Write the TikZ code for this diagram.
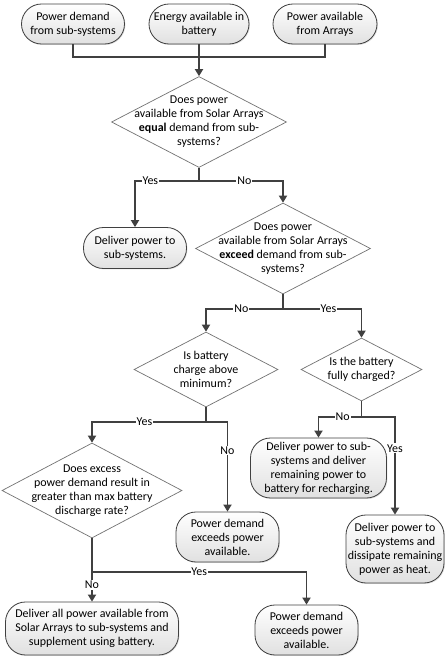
\documentclass[tikz,border=0pt]{standalone}
\usepackage{fontspec}
\setmainfont{Carlito}
\usetikzlibrary{arrows.meta,shadows,shapes.geometric}
\definecolor{linegray}{rgb}{0.25,0.25,0.25}
\definecolor{shadegray}{rgb}{0.88,0.88,0.88}
\tikzset{
  terminal/.style={
    rectangle,
    rounded corners=0.6cm,
    draw=black!75,
    line width=0.7pt,
    top color=white,
    bottom color=shadegray,
    drop shadow={opacity=0.25,shadow xshift=0.8pt,shadow yshift=-0.8pt},
    align=center,
    inner sep=1pt,
    font=\fontsize{10.2}{12}\selectfont
  },
  decision/.style={
    diamond,
    draw=black!55,
    line width=0.6pt,
    fill=white,
    inner sep=0pt
  },
  qtext/.style={
    align=center,
    inner sep=0pt,
    font=\fontsize{10.2}{12}\selectfont
  },
  line/.style={
    line width=1.1pt,
    draw=linegray
  },
  arrow/.style={
    line,
    -{Triangle[length=6pt,width=7pt]}
  },
  lbl/.style={
    fill=white,
    inner sep=0.8pt,
    text=black,
    font=\fontsize{10.2}{12}\selectfont
  }
}

\begin{document}
\begin{tikzpicture}[x=0.03cm,y=-0.03cm]
\useasboundingbox (0,0) rectangle (444,666);

% inputs
\node[terminal,minimum width=3.09cm,minimum height=1.2cm] (p1) at (73,24) {Power demand\\from sub-systems};
\node[terminal,minimum width=3.0cm,minimum height=1.2cm] (p2) at (199,24) {Energy available in\\battery};
\node[terminal,minimum width=3.12cm,minimum height=1.2cm] (p3) at (325,24) {Power available\\from Arrays};

% questions
\node[decision,minimum width=5.25cm,minimum height=2.73cm,
  label={[qtext]center:Does power\\available from Solar Arrays\\\textbf{equal} demand from sub-\\systems?}] (q1) at (199,122) {};
\node[decision,minimum width=5.25cm,minimum height=2.73cm,
  label={[qtext]center:Does power\\available from Solar Arrays\\\textbf{exceed} demand from sub-\\systems?}] (q2) at (283,248.5) {};
\node[decision,minimum width=4.32cm,minimum height=2.25cm,
  label={[qtext]center:Is battery\\charge above\\minimum?}] (q3) at (206,369.5) {};
\node[decision,minimum width=3.63cm,minimum height=1.89cm,
  label={[qtext]center:Is the battery\\fully charged?}] (q4) at (361.5,369.5) {};
\node[decision,minimum width=5.4cm,minimum height=2.85cm,
  label={[qtext]center:Does excess\\power demand result in\\greater than max battery\\discharge rate?}] (q5) at (92,490.5) {};

% results
\node[terminal,minimum width=3.09cm,minimum height=1.23cm] (r1) at (135,248) {Deliver power to\\sub-systems.};
\node[terminal,minimum width=3.09cm,minimum height=1.5cm] (r3) at (227.5,537) {Power demand\\exceeds power\\available.};
\node[terminal,minimum width=4.08cm,minimum height=1.8cm] (r4) at (318.5,468) {Deliver power to sub-\\systems and deliver\\remaining power to\\battery for recharging.};
\node[terminal,minimum width=2.94cm,minimum height=2.04cm] (r5) at (395,549) {Deliver power to\\sub-systems and\\dissipate remaining\\power as heat.};
\node[terminal,minimum width=5.19cm,minimum height=1.59cm] (r6) at (92,628.5) {Deliver all power available from\\Solar Arrays to sub-systems and\\supplement using battery.};
\node[terminal,minimum width=3.09cm,minimum height=1.5cm] (r7) at (306.5,630) {Power demand\\exceeds power\\available.};

% junctions
\coordinate (j0) at (199,57);
\coordinate (j1) at (199,181);
\coordinate (j2) at (283,309);
\coordinate (j3) at (206,422);
\coordinate (j4) at (361.5,417);
\coordinate (j5) at (92,572);

\draw[line] (p1.south) |- (j0) -| (p3.south);
\draw[arrow] (p2.south) -- (q1.north);

\draw[line] (q1.south) -- (j1);
\draw[arrow] (j1) -| node[lbl,pos=0.38]{Yes} (r1.north);
\draw[arrow] (j1) -| node[lbl,pos=0.27]{No} (q2.north);

\draw[line] (q2.south) -- (j2);
\draw[arrow] (j2) -| node[lbl,pos=0.27]{No} (q3.north);
\draw[arrow] (j2) -| node[lbl,pos=0.29]{Yes} (q4.north);

\draw[line] (q3.south) -- (j3);
\draw[arrow] (j3) -| node[lbl,pos=0.27]{Yes} (q5.north);
\draw[arrow] (j3) -| node[lbl,pos=0.66]{No} (r3.north);

\draw[line] (q4.south) -- (j4);
\draw[arrow] (j4) -| node[lbl,pos=0.22]{No} (r4.north);
\draw[arrow] (j4) -| node[lbl,pos=0.66]{Yes} (r5.north);

\draw[line] (q5.south) -- (j5);
\draw[arrow] (j5) -- node[lbl,pos=0.43]{No} (r6.north);
\draw[arrow] (j5) -| node[lbl,pos=0.25]{Yes} (r7.north);
\end{tikzpicture}
\end{document}
